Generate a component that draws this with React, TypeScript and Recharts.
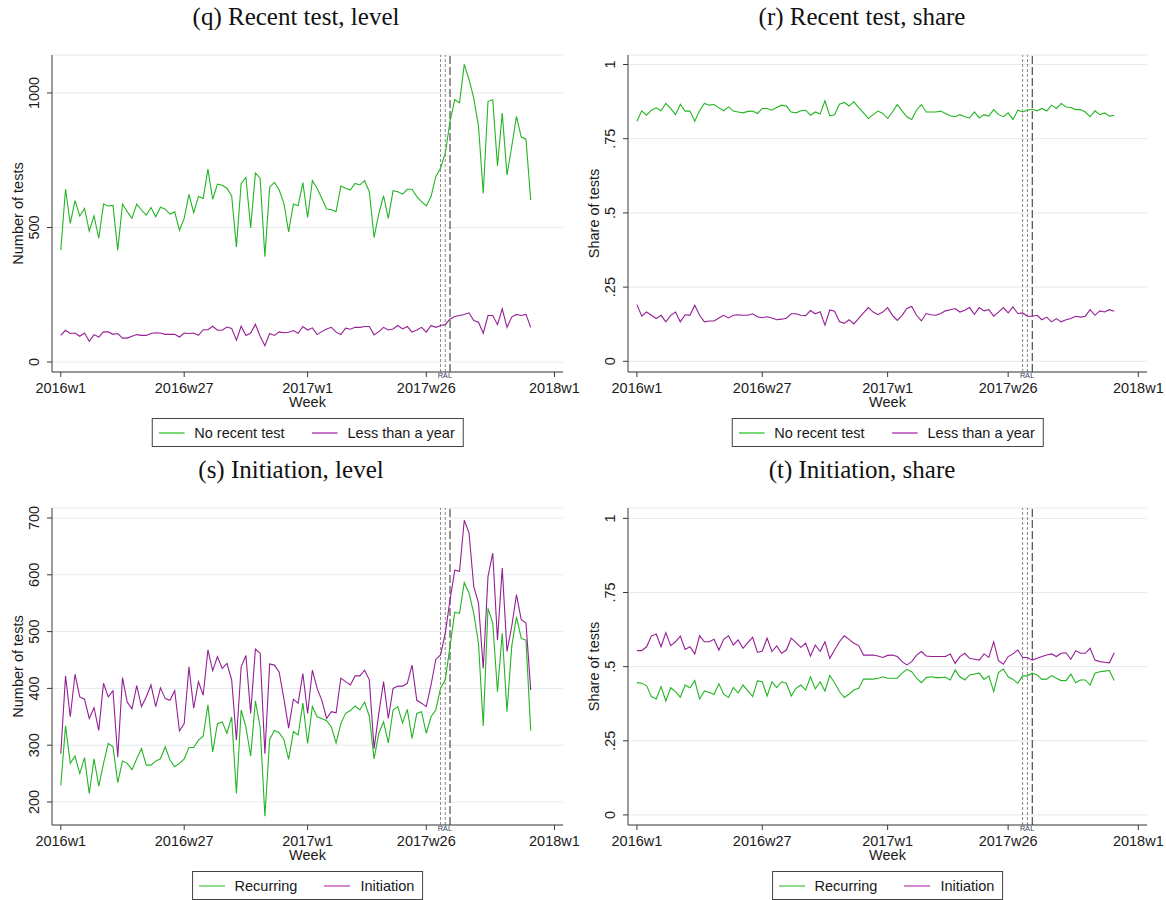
// weekly test counts and shares, four panels (q)-(t)
import React from "react";
import { LineChart, Line, XAxis, YAxis, CartesianGrid, ReferenceLine } from "recharts";

const WEEK_TICKS = [0, 26, 52, 77, 104];
const WEEK_LABELS = ["2016w1", "2016w27", "2017w1", "2017w26", "2018w1"];
const EVENT_WEEKS = [80, 81, 82];
const EVENT_LABELS = ["R", "A", "L"];

const LEVEL_Q_TICKS = [0, 500, 1000];
const LEVEL_Q_LABELS = ["0", "500", "1000"];
const LEVEL_S_TICKS = [200, 300, 400, 500, 600, 700];
const LEVEL_S_LABELS = ["200", "300", "400", "500", "600", "700"];
const SHARE_TICKS = [0, 0.25, 0.5, 0.75, 1];
const SHARE_LABELS = ["0", ".25", ".5", ".75", "1"];

// (q) levels
const noRecentLevel = [
  416, 642, 515, 600, 543, 571, 487, 543, 460, 587,
  580, 582, 416, 587, 559, 534, 587, 565, 546, 574,
  540, 575, 568, 550, 558, 490, 534, 623, 555, 615,
  608, 717, 605, 661, 657, 646, 617, 428, 664, 686,
  499, 702, 683, 391, 650, 668, 640, 590, 484, 587,
  581, 667, 537, 674, 646, 608, 569, 566, 559, 654,
  646, 639, 664, 658, 674, 633, 463, 552, 618, 534,
  637, 633, 624, 642, 642, 615, 596, 580, 615, 689,
  720, 776, 894, 975, 963, 1106, 1050, 981, 876, 627,
  969, 975, 729, 925, 695, 801, 913, 836, 828, 602,
];
const lessYearLevel = [
  99, 118, 106, 108, 96, 108, 77, 102, 93, 112,
  112, 103, 106, 89, 89, 96, 102, 99, 99, 106,
  109, 108, 103, 103, 103, 93, 108, 106, 108, 99,
  120, 120, 133, 118, 118, 130, 125, 81, 133, 99,
  108, 140, 96, 61, 106, 99, 112, 109, 111, 117,
  107, 132, 119, 127, 102, 113, 123, 129, 111, 102,
  126, 122, 129, 129, 132, 132, 101, 113, 129, 119,
  123, 136, 123, 132, 111, 119, 129, 111, 136, 129,
  136, 139, 160, 169, 173, 177, 183, 154, 148, 107,
  173, 173, 139, 198, 129, 167, 177, 173, 177, 129,
];

// (r) shares
const noRecentShare = [
  0.809, 0.844, 0.829, 0.846, 0.854, 0.844, 0.869, 0.852, 0.831, 0.866,
  0.843, 0.843, 0.809, 0.844, 0.869, 0.863, 0.865, 0.854, 0.844, 0.857,
  0.843, 0.84, 0.837, 0.842, 0.843, 0.835, 0.852, 0.852, 0.846, 0.855,
  0.863, 0.86, 0.84, 0.837, 0.844, 0.846, 0.829, 0.84, 0.833, 0.878,
  0.827, 0.831, 0.866, 0.872, 0.86, 0.874, 0.855, 0.837, 0.818, 0.831,
  0.843, 0.835, 0.818, 0.84, 0.865, 0.844, 0.824, 0.815, 0.846, 0.865,
  0.84, 0.84, 0.84, 0.843, 0.835, 0.827, 0.824, 0.831, 0.824, 0.82,
  0.84, 0.82, 0.831, 0.826, 0.848, 0.831, 0.824, 0.837, 0.815, 0.846,
  0.84, 0.846, 0.849, 0.844, 0.852, 0.843, 0.863, 0.852, 0.869, 0.857,
  0.855, 0.848, 0.848, 0.84, 0.824, 0.844, 0.831, 0.837, 0.826, 0.829,
];
const lessYearShare = [
  0.191, 0.152, 0.166, 0.155, 0.144, 0.155, 0.133, 0.155, 0.166, 0.133,
  0.157, 0.155, 0.189, 0.155, 0.133, 0.136, 0.136, 0.146, 0.155, 0.146,
  0.155, 0.157, 0.155, 0.155, 0.16, 0.15, 0.147, 0.15, 0.146, 0.14,
  0.142, 0.145, 0.16, 0.16, 0.155, 0.154, 0.171, 0.16, 0.167, 0.122,
  0.173, 0.169, 0.134, 0.128, 0.14, 0.126, 0.145, 0.163, 0.181, 0.166,
  0.157, 0.166, 0.181, 0.155, 0.138, 0.155, 0.178, 0.185, 0.155, 0.136,
  0.161, 0.157, 0.155, 0.161, 0.17, 0.174, 0.178, 0.166, 0.172, 0.181,
  0.158, 0.181, 0.17, 0.174, 0.152, 0.166, 0.181, 0.163, 0.183, 0.161,
  0.163, 0.152, 0.152, 0.155, 0.14, 0.149, 0.133, 0.144, 0.133, 0.14,
  0.144, 0.152, 0.149, 0.152, 0.174, 0.155, 0.17, 0.166, 0.174, 0.169,
];

// (s) levels
const recurringLevel = [
  229, 334, 268, 281, 250, 278, 215, 276, 228, 268,
  303, 297, 234, 272, 268, 257, 276, 294, 265, 265,
  272, 276, 297, 274, 262, 268, 276, 296, 296, 309,
  316, 371, 288, 338, 341, 321, 350, 215, 362, 332,
  281, 378, 332, 175, 310, 326, 322, 310, 275, 324,
  318, 374, 303, 368, 350, 347, 343, 332, 304, 338,
  356, 361, 369, 362, 376, 351, 276, 321, 341, 304,
  362, 368, 339, 363, 312, 356, 359, 321, 350, 362,
  400, 415, 474, 534, 532, 586, 568, 532, 479, 334,
  541, 515, 394, 497, 359, 474, 526, 488, 485, 326,
];
const initiationLevel = [
  285, 422, 350, 425, 385, 381, 347, 366, 326, 409,
  385, 396, 279, 419, 376, 364, 405, 368, 385, 406,
  368, 401, 382, 379, 396, 325, 338, 438, 365, 412,
  388, 468, 431, 456, 435, 444, 415, 309, 438, 458,
  356, 469, 462, 285, 443, 441, 429, 382, 330, 381,
  374, 426, 356, 432, 400, 379, 347, 359, 357, 418,
  412, 406, 422, 422, 432, 415, 294, 356, 412, 347,
  400, 404, 404, 409, 441, 379, 374, 368, 406, 451,
  459, 497, 556, 608, 606, 696, 674, 579, 550, 435,
  597, 638, 485, 612, 465, 509, 565, 521, 515, 397,
];

// (t) shares
const recurringShare = [
  0.446, 0.444, 0.436, 0.399, 0.391, 0.433, 0.384, 0.429, 0.416, 0.397,
  0.438, 0.429, 0.453, 0.391, 0.418, 0.413, 0.407, 0.442, 0.407, 0.396,
  0.43, 0.412, 0.438, 0.419, 0.399, 0.452, 0.449, 0.401, 0.449, 0.429,
  0.449, 0.444, 0.401, 0.427, 0.438, 0.421, 0.466, 0.425, 0.449, 0.418,
  0.47, 0.446, 0.416, 0.396, 0.407, 0.421, 0.427, 0.458, 0.458, 0.458,
  0.461, 0.466, 0.461, 0.461, 0.461, 0.478, 0.491, 0.483, 0.461, 0.446,
  0.463, 0.466, 0.463, 0.463, 0.464, 0.455, 0.489, 0.466, 0.455, 0.472,
  0.475, 0.478, 0.457, 0.469, 0.416, 0.48, 0.492, 0.466, 0.457, 0.444,
  0.469, 0.469, 0.478, 0.472, 0.457, 0.458, 0.47, 0.461, 0.453, 0.453,
  0.475, 0.446, 0.455, 0.455, 0.438, 0.478, 0.483, 0.485, 0.487, 0.453,
];
const initiationShare = [
  0.554, 0.554, 0.567, 0.603, 0.61, 0.567, 0.615, 0.571, 0.584, 0.603,
  0.558, 0.567, 0.543, 0.604, 0.584, 0.584, 0.592, 0.556, 0.592, 0.604,
  0.573, 0.59, 0.562, 0.581, 0.599, 0.548, 0.553, 0.596, 0.551, 0.57,
  0.545, 0.556, 0.596, 0.581, 0.565, 0.579, 0.536, 0.573, 0.551, 0.584,
  0.528, 0.556, 0.584, 0.604, 0.592, 0.579, 0.571, 0.539, 0.539, 0.539,
  0.536, 0.531, 0.538, 0.539, 0.534, 0.517, 0.506, 0.517, 0.539, 0.551,
  0.536, 0.534, 0.534, 0.534, 0.534, 0.543, 0.511, 0.534, 0.545, 0.528,
  0.525, 0.522, 0.543, 0.531, 0.584, 0.52, 0.508, 0.534, 0.543, 0.556,
  0.531, 0.531, 0.522, 0.528, 0.534, 0.539, 0.543, 0.534, 0.545, 0.547,
  0.525, 0.554, 0.545, 0.545, 0.562, 0.522, 0.517, 0.515, 0.513, 0.547,
];

const GREEN = "#23b523";
const PURPLE = "#951f95";
const LEGEND_GREEN = "#4cc84c";
const LEGEND_PURPLE = "#b848b8";
const SANS = "'Liberation Sans', Arial, sans-serif";
const SERIF = "'Liberation Serif', 'Times New Roman', serif";
const AXIS = "#3a3a3a";

const toRows = (a: number[], b: number[]) => a.map((v, i) => ({ w: i, a: v, b: b[i] }));

const VTick = (props: any) => {
  const { x, y, payload, ticks, labels } = props;
  const bx = x - 6;
  return (
    <text x={bx} y={y} transform={`rotate(-90 ${bx} ${y})`} textAnchor="middle"
      fill="#1a1a1a" fontSize={14.5} fontFamily={SANS}>
      {labels[ticks.indexOf(payload.value)]}
    </text>
  );
};

// legend drawn as svg so the short colour samples keep their colour
const Legend = ({ center, top, names }: { center: number; top: number; names: string[] }) => (
  <div style={{
    position: "absolute", left: center, top, transform: "translateX(-50%)",
    height: 27, border: "1px solid #444", display: "flex", alignItems: "center",
    padding: "0 8px 0 6px", fontFamily: SANS, fontSize: 14.5, color: "#1a1a1a",
    whiteSpace: "nowrap", background: "#fff",
  }}>
    {names.map((n, i) => (
      <div key={n} style={{ display: "flex", alignItems: "center", marginLeft: i ? 27 : 0 }}>
        <svg width={26} height={4} style={{ marginRight: 10, display: "block" }}>
          <line x1={0} y1={2} x2={26} y2={2} stroke={i ? LEGEND_PURPLE : LEGEND_GREEN} strokeWidth={1.3} />
        </svg>
        {n}
      </div>
    ))}
  </div>
);

type PanelProps = {
  title: string;
  titleCenter: number;
  left: number;
  top: number;
  ml: number;
  mr: number;
  a: number[];
  b: number[];
  names: string[];
  yDomain: [number, number];
  yTicks: number[];
  yLabels: string[];
  yTitle: string;
};

const Panel = ({ title, titleCenter, left, top, ml, mr, a, b, names, yDomain, yTicks, yLabels, yTitle }: PanelProps) => {
  const data = toRows(a, b);
  const W = 583;
  const plotCenter = left + ml + 40 + (W - ml - 40 - mr) / 2;
  return (
    <>
      <div style={{
        position: "absolute", left: titleCenter, top: top - 38, transform: "translateX(-50%)",
        fontFamily: SERIF, fontSize: 25, color: "#111", whiteSpace: "nowrap", lineHeight: "30px",
      }}>{title}</div>
      <div style={{ position: "absolute", left, top }}>
        <LineChart width={W} height={380} data={data} margin={{ top: 15, right: mr, left: ml, bottom: 8 }}>
          <CartesianGrid vertical={false} stroke="#e2ebee" strokeWidth={1} />
          <XAxis
            dataKey="w" type="number" domain={[-1.85, 105.8]} ticks={WEEK_TICKS} allowDataOverflow
            tickFormatter={(v: number) => WEEK_LABELS[WEEK_TICKS.indexOf(v)]}
            height={40} tickSize={5} tickMargin={6}
            stroke={AXIS} tick={{ fill: "#1a1a1a", fontSize: 14.5, fontFamily: SANS }}
            label={(p: any) => {
              const vb = p.viewBox;
              return (
                <text x={vb.x + vb.width / 2} y={vb.y + 35} textAnchor="middle"
                  fill="#1a1a1a" fontSize={14.5} fontFamily={SANS}>Week</text>
              );
            }}
          />
          <YAxis
            type="number" domain={yDomain} ticks={yTicks} allowDataOverflow width={40}
            tickSize={5} stroke={AXIS}
            tick={(p: any) => <VTick {...p} ticks={yTicks} labels={yLabels} />}
            label={(p: any) => {
              const vb = p.viewBox;
              const x = vb.x + vb.width - 29;
              const y = vb.y + vb.height / 2;
              return (
                <text x={x} y={y} transform={`rotate(-90 ${x} ${y})`} textAnchor="middle"
                  fill="#1a1a1a" fontSize={14.5} fontFamily={SANS}>{yTitle}</text>
              );
            }}
          />
          {EVENT_WEEKS.map((wk, i) => (
            <ReferenceLine key={wk} x={wk}
              stroke={i < 2 ? "#8a8a8a" : "#2a2a2a"}
              strokeDasharray={i < 2 ? "3 2" : "8 3"}
              strokeWidth={1}
              label={{ value: EVENT_LABELS[i], position: "bottom", offset: 1, fontSize: 7.5, fill: "#3a4660", fontFamily: SANS }}
            />
          ))}
          <Line dataKey="a" stroke={GREEN} strokeWidth={1.1} dot={false} isAnimationActive={false} />
          <Line dataKey="b" stroke={PURPLE} strokeWidth={1.1} dot={false} isAnimationActive={false} />
        </LineChart>
      </div>
      <Legend center={plotCenter} top={top + 378} names={names} />
    </>
  );
};

export default function App() {
  const recentNames = ["No recent test", "Less than a year"];
  const initNames = ["Recurring", "Initiation"];
  return (
    <div style={{ position: "absolute", left: 0, top: 0, width: 1166, height: 900, background: "#fff", overflow: "hidden" }}>
      <Panel title="(q) Recent test, level" titleCenter={296} left={0} top={40} ml={12} mr={20}
        a={noRecentLevel} b={lessYearLevel} names={recentNames}
        yDomain={[-37, 1141]} yTicks={LEVEL_Q_TICKS} yLabels={LEVEL_Q_LABELS} yTitle="Number of tests" />
      <Panel title="(r) Recent test, share" titleCenter={862} left={583} top={40} ml={5} mr={19}
        a={noRecentShare} b={lessYearShare} names={recentNames}
        yDomain={[-0.036, 1.032]} yTicks={SHARE_TICKS} yLabels={SHARE_LABELS} yTitle="Share of tests" />
      <Panel title="(s) Initiation, level" titleCenter={291} left={0} top={493} ml={12} mr={20}
        a={recurringLevel} b={initiationLevel} names={initNames}
        yDomain={[159.5, 717.6]} yTicks={LEVEL_S_TICKS} yLabels={LEVEL_S_LABELS} yTitle="Number of tests" />
      <Panel title="(t) Initiation, share" titleCenter={862} left={583} top={493} ml={5} mr={19}
        a={recurringShare} b={initiationShare} names={initNames}
        yDomain={[-0.034, 1.035]} yTicks={SHARE_TICKS} yLabels={SHARE_LABELS} yTitle="Share of tests" />
    </div>
  );
}
